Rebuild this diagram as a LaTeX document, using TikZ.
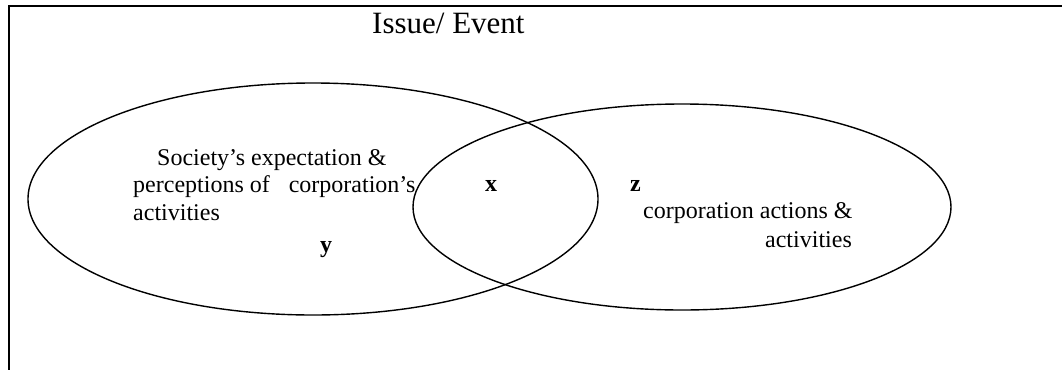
\documentclass[tikz,border=0pt]{standalone}
\usepackage{fontspec}
\setmainfont{Liberation Serif}
\usetikzlibrary{shapes.geometric}

\tikzset{
    venn/.style={draw, ellipse, line width=1.4pt, inner sep=0pt},
    txt/.style={inner sep=0pt, anchor=base west, font=\fontsize{24}{27.5}\selectfont},
    letter/.style={txt, font=\fontsize{24}{27.5}\selectfont\bfseries}
}

\begin{document}
\begin{tikzpicture}[x=1pt, y=-1pt]
    \useasboundingbox (0,0) rectangle (1062,370);

    % Frame (open at right and bottom)
    \coordinate (fr) at (1062,6);
    \coordinate (fc) at (9,6);
    \coordinate (fb) at (9,370);
    \draw[line width=1.4pt] (fr) -- (fc) -- (fb);

    % Title
    \node[txt, font=\fontsize{31}{36}\selectfont] (title) at (372,33) {Issue/ Event};

    % The two sets
    \node[venn, minimum width=570pt, minimum height=232pt] (society) at (313,199) {};
    \node[venn, minimum width=538pt, minimum height=206pt] (corp) at (682,207) {};

    % Left set text
    \node[txt] (s1) at (157,165) {Society’s expectation \&};
    \node[txt] (s2) at (133,192) {perceptions of\hspace{19pt}corporation’s};
    \node[txt] (s3) at (133,220) {activities};
    \node[letter] (y) at (320,252) {y};

    % Overlap
    \node[letter] (x) at (485,191) {x};

    % Right set text
    \node[letter] (z) at (630,191) {z};
    \node[txt] (c1) at (643,218) {corporation actions \&};
    \node[txt, anchor=base east] (c2) at (852,247) {activities};
\end{tikzpicture}
\end{document}
